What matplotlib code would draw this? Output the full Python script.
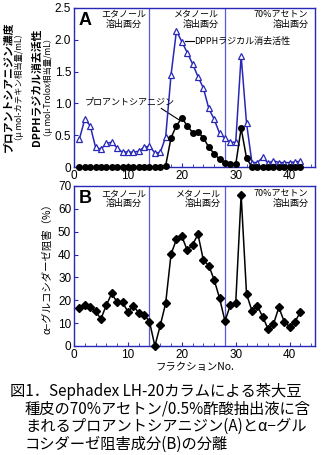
import matplotlib
matplotlib.use("Agg")
import matplotlib.pyplot as plt
from matplotlib.ticker import MultipleLocator

plt.rcParams['font.family'] = ['Liberation Sans', 'Noto Sans CJK JP', 'DejaVu Sans']
jp = ['Noto Sans CJK JP', 'DejaVu Sans']

# fraction numbers
fractions = list(range(1, 43))
# DPPH radical scavenging (umol Trolox eq./mL)
dpph = [0.44, 0.75, 0.65, 0.31, 0.28, 0.37, 0.39, 0.30, 0.23, 0.24, 0.23, 0.25, 0.31, 0.33,
        0.22, 0.23, 0.47, 1.45, 2.14, 1.97, 1.80, 1.62, 1.42, 1.24, 0.92, 0.75, 0.53, 0.45,
        0.39, 0.39, 1.75, 0.69, 0.07, 0.07, 0.15, 0.06, 0.10, 0.07, 0.07, 0.07, 0.08, 0.09]
# proanthocyanidin (umol catechin eq./mL)
proantho = [0, 0, 0, 0, 0, 0, 0, 0, 0, 0, 0, 0, 0, 0,
            0, 0, 0.02, 0.46, 0.65, 0.77, 0.65, 0.54, 0.55, 0.46, 0.31, 0.21, 0.12, 0.07,
            0.05, 0.04, 0.61, 0.14, 0, 0, 0, 0, 0, 0, 0, 0, 0, 0]
# alpha-glucosidase inhibition (%)
glucosidase = [16.5, 17.9, 17.2, 15.1, 11.9, 17.9, 23.0, 19.1, 19.2, 14.9, 17.6, 14.5, 13.7, 10.7,
               0, 9.0, 18.7, 40.2, 46.6, 48.0, 41.9, 44.4, 48.8, 37.5, 35.2, 28.9, 20.9, 10.9,
               17.9, 19.0, 66.1, 22.8, 15.4, 17.5, 12.8, 7.4, 9.6, 16.9, 10.6, 8.4, 10.6, 15.0]
# solvent change points
borders = [14, 28]
fraction_names = [u"エタノール\n溶出画分", u"メタノール\n溶出画分", u"70%アセトン\n溶出画分"]

W, H = 322, 455
fig = plt.figure(figsize=(W / 100, H / 100), dpi=100)
blue = '#2828b8'
vblue = '#5a5ad8'


def px_axes(l, t, r, b):
    return fig.add_axes([l / W, 1 - b / H, (r - l) / W, (b - t) / H])


def style(ax, ymax, ystep):
    ax.set_xlim(0, 44.7)
    ax.set_ylim(0, ymax)
    ax.xaxis.set_major_locator(MultipleLocator(10))
    ax.xaxis.set_minor_locator(MultipleLocator(2))
    ax.yaxis.set_major_locator(MultipleLocator(ystep))
    for s in ax.spines.values():
        s.set_color(blue)
        s.set_linewidth(1.0)
    ax.tick_params(which='both', direction='in', color=blue, labelsize=8.5, pad=2)
    ax.tick_params(which='major', length=3)
    ax.tick_params(which='minor', length=2.5)
    for b in borders:
        ax.axvline(b, color=vblue, lw=0.9)


# panel A
axA = px_axes(74, 8, 315, 167)
style(axA, 2.5, 0.5)
axA.set_yticks([0, 0.5, 1.0, 1.5, 2.0, 2.5])
axA.set_yticklabels(['0', '0.5', '1.0', '1.5', '2.0', '2.5'])
axA.plot(fractions, dpph, color=blue, lw=1.1, marker='^', ms=4.6, mfc='white', mec=blue,
         mew=0.9, clip_on=False, zorder=3)
axA.plot(fractions, proantho, color='black', lw=1.1, marker='o', ms=4.0, mfc='black',
         mec='black', clip_on=False, zorder=4)
axA.text(2, 2.3, 'A', fontsize=13, fontweight='bold', ha='center', va='center')
axA.text(9.3, 2.32, fraction_names[0], family=jp, fontsize=6.5, ha='center', va='center',
         linespacing=1.15)
axA.text(26.8, 2.32, fraction_names[1], family=jp, fontsize=6.5, ha='right', va='center',
         linespacing=1.15)
axA.text(43.5, 2.32, fraction_names[2], family=jp, fontsize=6.5, ha='right', va='center',
         linespacing=1.15)
axA.plot([20.6, 22.2], [1.98, 1.98], color='black', lw=0.8)
axA.text(22.3, 1.98, u"DPPHラジカル消去活性", family=jp, fontsize=6.5, ha='left', va='center')
axA.text(2.0, 1.03, u"プロアントシアニジン", family=jp, fontsize=6.5, ha='left', va='center')
axA.plot([16.2, 19.5], [0.92, 0.74], color='black', lw=0.8)

# panel B
axB = px_axes(74, 186, 315, 346)
style(axB, 70, 10)
axB.plot(fractions, glucosidase, color='black', lw=1.1, marker='D', ms=4.5, mfc='black',
         mec='black', clip_on=False, zorder=4)
axB.text(2, 64.5, 'B', fontsize=13, fontweight='bold', ha='center', va='center')
axB.text(9.3, 64.5, fraction_names[0], family=jp, fontsize=6.5, ha='center', va='center',
         linespacing=1.15)
axB.text(27.2, 64.5, fraction_names[1], family=jp, fontsize=6.5, ha='right', va='center',
         linespacing=1.15)
axB.text(43.5, 64.5, fraction_names[2], family=jp, fontsize=6.5, ha='right', va='center',
         linespacing=1.15)
axB.set_xlabel(u"フラクションNo.", family=jp, fontsize=7.5, labelpad=1)
axB.set_ylabel(u"α−グルコシダーゼ阻害（%）", family=jp, fontsize=7.5, labelpad=4)

# panel A y labels
ycA = 1 - 87 / H
fig.text(9 / W, ycA, u"プロアントシアニジン濃度", family=jp, fontsize=7.8, rotation=90,
         ha='center', va='center', fontweight='bold')
fig.text(19 / W, ycA, u"（μ mol-カテキン相当量/mL）", family=jp, fontsize=6.0, rotation=90,
         ha='center', va='center')
fig.text(37 / W, ycA, u"DPPHラジカル消去活性", family=jp, fontsize=7.8, rotation=90,
         ha='center', va='center', fontweight='bold')
fig.text(48 / W, ycA, u"（μ mol-Trolox相当量/mL）", family=jp, fontsize=6.0, rotation=90,
         ha='center', va='center')

# caption
caption = [u"図1．Sephadex LH-20カラムによる茶大豆",
           u"種皮の70%アセトン/0.5%酢酸抽出液に含",
           u"まれるプロアントシアニジン(A)とα−グル",
           u"コシダーゼ阻害成分(B)の分離"]
for i, line in enumerate(caption):
    x = 10 if i == 0 else 25
    fig.text(x / W, 1 - (392 + 17.3 * i) / H, line, family=jp, fontsize=11.0,
             ha='left', va='center')

fig.savefig('out.png', dpi=100, facecolor='white')
